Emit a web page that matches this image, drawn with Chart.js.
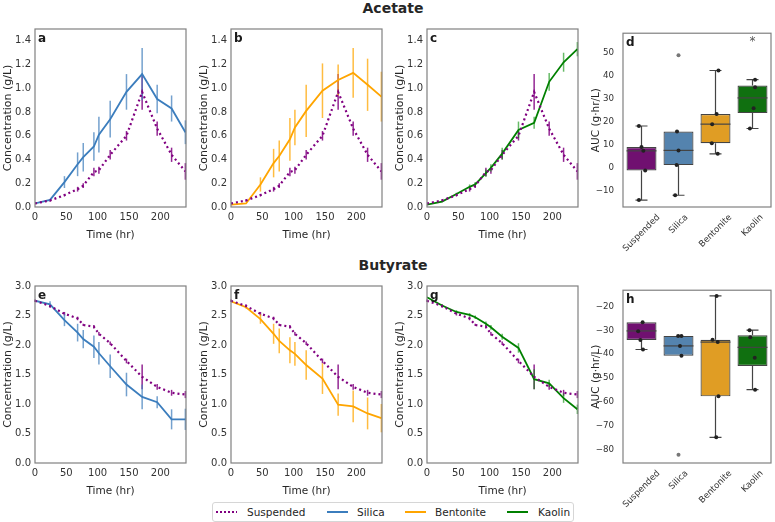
<!DOCTYPE html>
<html>
<head>
<meta charset="utf-8">
<script src="https://cdn.jsdelivr.net/npm/chart.js@4.4.0/dist/chart.umd.min.js"></script>
<style>
  body { margin: 0; width: 775px; height: 522px; position: relative; overflow: hidden; background: #fff;
         font-family: "DejaVu Sans", sans-serif; color: #262626; }
  canvas { position: absolute; }
  .title { position: absolute; left: 293px; width: 200px; text-align: center; font-weight: bold;
           font-size: 14px; line-height: 16px; }
  #legend { position: absolute; left: 212px; top: 502px; width: 360px; height: 18px;
            border: 1px solid #d6d6d6; border-radius: 3px; font-size: 10.5px; }
  #legend .sw { position: absolute; top: 8px; height: 2px; }
  #legend .lb { position: absolute; top: 2px; line-height: 14px; }
</style>
</head>
<body>
<div class="title" style="top:0px">Acetate</div>
<div class="title" style="top:257px">Butyrate</div>
<div id="legend"></div>

<script>
// sampling times (hr) and tick values
const times = [0, 24, 47, 68, 77, 94, 102, 120, 146, 171, 195, 218, 240];
const timeTicks = [0, 50, 100, 150, 200];
const acetateTicks = [0, 0.2, 0.4, 0.6, 0.8, 1.0, 1.2, 1.4];
const butyrateTicks = [0, 0.5, 1.0, 1.5, 2.0, 2.5, 3.0];

// acetate concentration (g/L), mean and error
const acetateSuspended    = [0.03, 0.055, 0.10, 0.15, 0.18, 0.295, 0.31, 0.44, 0.60, 0.97, 0.66, 0.44, 0.30];
const acetateSuspendedErr = [0, 0.01, 0.01, 0.02, 0.02, 0.035, 0.03, 0.04, 0.04, 0.15, 0.06, 0.06, 0.07];
const acetateSilica       = [0.03, 0.06, 0.21, 0.36, 0.42, 0.51, 0.61, 0.74, 0.97, 1.12, 0.91, 0.83, 0.63];
const acetateSilicaErr    = [0, 0, 0.05, 0.10, 0.12, 0.12, 0.15, 0.155, 0.15, 0.22, 0.12, 0.11, 0.10];
const acetateBentonite    = [0.02, 0.03, 0.19, 0.37, 0.43, 0.57, 0.67, 0.81, 0.98, 1.07, 1.13, 1.03, 0.93];
const acetateBentoniteErr = [0, 0, 0.06, 0.12, 0.13, 0.18, 0.15, 0.22, 0.23, 0.13, 0.21, 0.22, 0.21];
const acetateKaolin       = [0.02, 0.046, 0.11, 0.17, 0.19, 0.285, 0.33, 0.45, 0.65, 0.71, 1.055, 1.22, 1.33];
const acetateKaolinErr    = [0, 0.005, 0.01, 0.02, 0.02, 0.03, 0.03, 0.05, 0.07, 0.05, 0.075, 0.08, 0.06];

// butyrate concentration (g/L)
const butyrateSuspended    = [2.75, 2.66, 2.53, 2.45, 2.34, 2.31, 2.19, 2.03, 1.73, 1.46, 1.29, 1.19, 1.16];
const butyrateSuspendedErr = [0.02, 0.03, 0.03, 0.03, 0.02, 0.03, 0.03, 0.03, 0.04, 0.21, 0.05, 0.05, 0.06];
const butyrateSilica       = [2.75, 2.69, 2.42, 2.21, 2.10, 1.97, 1.86, 1.64, 1.33, 1.12, 1.03, 0.74, 0.74];
const butyrateSilicaErr    = [0, 0.05, 0.10, 0.15, 0.155, 0.19, 0.19, 0.20, 0.20, 0.21, 0.10, 0.17, 0.18];
const butyrateBentonite    = [2.74, 2.64, 2.44, 2.19, 2.07, 1.91, 1.85, 1.66, 1.43, 0.99, 0.96, 0.84, 0.76];
const butyrateBentoniteErr = [0, 0.02, 0.08, 0.17, 0.21, 0.22, 0.20, 0.25, 0.26, 0.19, 0.27, 0.27, 0.24];
const butyrateKaolin       = [2.81, 2.67, 2.56, 2.51, 2.47, 2.36, 2.30, 2.14, 1.95, 1.42, 1.35, 1.10, 0.91];
const butyrateKaolinErr    = [0, 0.02, 0.03, 0.03, 0.03, 0.04, 0.04, 0.05, 0.08, 0.17, 0.06, 0.08, 0.08];

// AUC box plots (g·hr/L)
const groups = ["Suspended", "Silica", "Bentonite", "Kaolin"];
const acetateAucTicks = [-10, 0, 10, 20, 30, 40, 50];
const acetateAucQ1     = [-1.1, 1.2, 10.7, 23.8];
const acetateAucMedian = [7.4, 7.6, 19.0, 30.4];
const acetateAucQ3     = [9.1, 15.8, 23.4, 35.8];
const acetateAucLow    = [-14.0, -11.9, 6.1, 17.1];
const acetateAucHigh   = [18.2, 15.8, 42.3, 38.3];
const acetateAucPoints = [[18.2, 9.1, 7.4, -1.1, -14.0], [15.8, 7.6, 1.2, -11.9], [42.3, 23.4, 19.0, 10.7, 6.1], [38.3, 35.0, 25.9, 17.1]];
const acetateAucJitter = [[-0.07, 0, 0.05, 0.1, -0.07], [-0.04, 0, -0.05, -0.09], [0.08, 0.03, -0.09, -0.1, 0.06], [0.07, 0.07, 0.03, -0.07]];
const acetateAucFliers = [[], [48.9], [], []];
const acetateAucStars  = [[], [], [], [56]];

const butyrateAucTicks = [-80, -70, -60, -50, -40, -30, -20];
const butyrateAucQ1     = [-34.0, -40.6, -57.7, -44.9];
const butyrateAucMedian = [-30.2, -36.5, -34.9, -37.1];
const butyrateAucQ3     = [-26.6, -32.3, -33.9, -32.0];
const butyrateAucLow    = [-38.0, -40.6, -74.9, -54.9];
const butyrateAucHigh   = [-26.6, -32.3, -15.5, -29.9];
const butyrateAucPoints = [[-26.6, -30.3, -34.0, -38.0], [-32.3, -32.3, -36.5, -40.6], [-15.5, -33.9, -34.9, -57.7, -74.9], [-29.9, -32.9, -41.5, -54.9]];
const butyrateAucJitter = [[0.03, -0.09, -0.03, 0.04], [-0.01, 0.08, 0.04, 0.08], [0.03, -0.08, 0.06, 0.08, 0.02], [-0.08, -0.06, 0.06, 0.07]];
const butyrateAucFliers = [[], [-82.2], [], []];
const butyrateAucStars  = [[], [], [], []];

const FONT = "'DejaVu Sans', sans-serif";
const TXT = "#333";
const lineColors = { Suspended: "#800080", Silica: "#3b7dbd", Bentonite: "#ffa500", Kaolin: "#008000" };
const errColors = { Suspended: "rgba(128,0,128,0.85)", Silica: "rgba(70,130,190,0.75)",
                    Bentonite: "rgba(255,165,0,0.75)", Kaolin: "rgba(0,140,0,0.6)" };
const boxColors = ["#701070", "#5483ae", "#e09d24", "#107010"];

Chart.defaults.font.family = FONT;
Chart.defaults.color = TXT;

// gray frame round the plot area + panel letter
const framePlugin = {
  id: "frame",
  afterDraw(chart, args, opts) {
    const { ctx, chartArea: a } = chart;
    ctx.save();
    ctx.strokeStyle = "#808080";
    ctx.lineWidth = 1.2;
    ctx.strokeRect(a.left, a.top, a.right - a.left, a.bottom - a.top);
    ctx.fillStyle = "#1a1a1a";
    ctx.font = "bold 12px " + FONT;
    ctx.textAlign = "left";
    ctx.textBaseline = "alphabetic";
    ctx.fillText(opts.letter, a.left + 3, a.top + 13);
    ctx.restore();
  }
};

const errorBarPlugin = {
  id: "errorBars",
  beforeDatasetsDraw(chart) {
    const { ctx, scales: { x, y } } = chart;
    ctx.save();
    chart.data.datasets.forEach(ds => {
      if (!ds.errors) return;
      ctx.strokeStyle = ds.errColor;
      ctx.lineWidth = 1.5;
      ds.data.forEach((p, i) => {
        const e = ds.errors[i];
        if (!e) return;
        const px = x.getPixelForValue(p.x);
        ctx.beginPath();
        ctx.moveTo(px, y.getPixelForValue(p.y - e));
        ctx.lineTo(px, y.getPixelForValue(p.y + e));
        ctx.stroke();
      });
    });
    ctx.restore();
  }
};

function addCanvas(left, top, w, h) {
  const c = document.createElement("canvas");
  c.width = w; c.height = h;
  c.style.left = left + "px"; c.style.top = top + "px";
  document.body.appendChild(c);
  return c;
}

function lineChart(letter, left, top, h, yMax, yTicks, series) {
  const canvas = addCanvas(left - 35, top - 4, 35 + 151 + 4, 4 + h + 38);
  new Chart(canvas, {
    type: "line",
    data: {
      datasets: series.map(s => ({
        data: times.map((t, i) => ({ x: t, y: s.values[i] })),
        errors: s.errors,
        errColor: errColors[s.name],
        borderColor: lineColors[s.name],
        borderWidth: s.name === "Suspended" ? 2.2 : 1.8,
        borderDash: s.name === "Suspended" ? [2, 3] : [],
        pointRadius: 0,
        tension: 0,
        fill: false
      }))
    },
    options: {
      responsive: false, animation: false, events: [],
      layout: { padding: { top: 4, right: 4, left: 0, bottom: 0 } },
      plugins: { legend: { display: false }, tooltip: { enabled: false }, frame: { letter } },
      scales: {
        x: {
          type: "linear", min: 0, max: 241,
          grid: { display: false, drawTicks: false }, border: { display: false },
          afterBuildTicks: s => { s.ticks = timeTicks.map(v => ({ value: v })); },
          afterFit: s => { s.height = 38; },
          ticks: { padding: 4, font: { size: 10 }, color: TXT, maxRotation: 0 },
          title: { display: true, text: "Time (hr)", font: { size: 10.5 }, color: "#262626", padding: { top: 0, bottom: 3 } }
        },
        y: {
          min: 0, max: yMax,
          grid: { display: false, drawTicks: false }, border: { display: false },
          afterBuildTicks: s => { s.ticks = yTicks.map(v => ({ value: v })); },
          afterFit: s => { s.width = 35; },
          ticks: { padding: 4, font: { size: 10 }, color: TXT, callback: v => v.toFixed(1) },
          title: { display: true, text: "Concentration (g/L)", font: { size: 11 }, color: "#262626", padding: { top: 2, bottom: 0 } }
        }
      }
    },
    plugins: [errorBarPlugin, framePlugin]
  });
}

// whiskers, caps, medians, rotated category labels, star marks
const boxPlugin = {
  id: "boxParts",
  beforeDatasetsDraw(chart, args, opts) {
    const { ctx, scales: { x, y } } = chart;
    const bars = chart.getDatasetMeta(2).data;
    ctx.save();
    ctx.strokeStyle = "#444";
    ctx.lineWidth = 1.2;
    groups.forEach((g, i) => {
      const px = x.getPixelForValue(i);
      const cap = bars[i].width * 0.2;
      [[opts.q3[i], opts.high[i]], [opts.q1[i], opts.low[i]]].forEach(([from, to]) => {
        if (from === to) return;
        ctx.beginPath();
        ctx.moveTo(px, y.getPixelForValue(from));
        ctx.lineTo(px, y.getPixelForValue(to));
        ctx.moveTo(px - cap, y.getPixelForValue(to));
        ctx.lineTo(px + cap, y.getPixelForValue(to));
        ctx.stroke();
      });
    });
    ctx.restore();
  },
  afterDatasetDraw(chart, args, opts) {
    if (args.meta.type !== "bar") return;
    const { ctx, scales: { y } } = chart;
    ctx.save();
    ctx.strokeStyle = "#444";
    ctx.lineWidth = 1.2;
    args.meta.data.forEach((bar, i) => {
      const py = y.getPixelForValue(opts.median[i]);
      ctx.beginPath();
      ctx.moveTo(bar.x - bar.width / 2, py);
      ctx.lineTo(bar.x + bar.width / 2, py);
      ctx.stroke();
    });
    ctx.restore();
  },
  afterDraw(chart, args, opts) {
    const { ctx, chartArea: a, scales: { x, y } } = chart;
    ctx.save();
    ctx.fillStyle = TXT;
    ctx.font = "8.7px " + FONT;
    ctx.textAlign = "center";
    ctx.textBaseline = "middle";
    groups.forEach((g, i) => {
      const w = ctx.measureText(g).width;
      const side = (w + 8.7) * Math.SQRT1_2;
      ctx.save();
      ctx.translate(x.getPixelForValue(i), a.bottom + 6 + side / 2);
      ctx.rotate(-Math.PI / 4);
      ctx.fillText(g, 0, 0);
      ctx.restore();
    });
    ctx.fillStyle = "#555";
    ctx.font = "12px " + FONT;
    opts.stars.forEach((vals, i) => vals.forEach(v => {
      ctx.fillText("*", x.getPixelForValue(i), y.getPixelForValue(v) + 3);
    }));
    ctx.restore();
  }
};

function boxChart(letter, top, h, yMin, yMax, yTicks, s) {
  const canvas = addCanvas(588, top - 4, 35 + 151 + 1, 4 + h + 48);
  const pts = [], fl = [];
  s.points.forEach((vals, i) => vals.forEach((v, j) => pts.push({ x: i + s.jitter[i][j], y: v })));
  s.fliers.forEach((vals, i) => vals.forEach(v => fl.push({ x: i, y: v })));
  const fmt = v => (v < 0 ? "\u2212" + Math.abs(v) : String(v));
  new Chart(canvas, {
    type: "bar",
    data: {
      datasets: [
        { type: "scatter", data: pts, pointRadius: 2, backgroundColor: "#222", borderWidth: 0 },
        { type: "scatter", data: fl, pointRadius: 2, backgroundColor: "#777", borderWidth: 0 },
        { type: "bar", data: groups.map((g, i) => ({ x: i, y: [s.q1[i], s.q3[i]] })),
          backgroundColor: boxColors, borderColor: "#444", borderWidth: 1.2, borderSkipped: false,
          barPercentage: 1, categoryPercentage: 0.81 }
      ]
    },
    options: {
      responsive: false, animation: false, events: [],
      layout: { padding: { top: 4, right: 1, left: 0, bottom: 0 } },
      plugins: {
        legend: { display: false }, tooltip: { enabled: false }, frame: { letter },
        boxParts: { q1: s.q1, q3: s.q3, median: s.median, low: s.low, high: s.high, stars: s.stars }
      },
      scales: {
        x: {
          type: "linear", min: -0.5, max: 3.5, offset: false,
          grid: { display: false, drawTicks: false }, border: { display: false },
          ticks: { display: false },
          afterFit: sc => { sc.height = 48; }
        },
        y: {
          min: yMin, max: yMax,
          grid: { display: false, drawTicks: false }, border: { display: false },
          afterBuildTicks: sc => { sc.ticks = yTicks.map(v => ({ value: v })); },
          afterFit: sc => { sc.width = 35; },
          ticks: { padding: 9, font: { size: 8.7 }, color: TXT, callback: fmt },
          title: { display: true, text: "AUC (g\u00b7hr/L)", font: { size: 10.5 }, color: "#262626", padding: { top: 2, bottom: 0 } }
        }
      }
    },
    plugins: [boxPlugin, framePlugin]
  });
}

const lefts = [35, 231, 427];
lineChart("a", lefts[0], 23, 184, 1.5, acetateTicks, [
  { name: "Suspended", values: acetateSuspended, errors: acetateSuspendedErr },
  { name: "Silica", values: acetateSilica, errors: acetateSilicaErr }]);
lineChart("b", lefts[1], 23, 184, 1.5, acetateTicks, [
  { name: "Suspended", values: acetateSuspended, errors: acetateSuspendedErr },
  { name: "Bentonite", values: acetateBentonite, errors: acetateBentoniteErr }]);
lineChart("c", lefts[2], 23, 184, 1.5, acetateTicks, [
  { name: "Suspended", values: acetateSuspended, errors: acetateSuspendedErr },
  { name: "Kaolin", values: acetateKaolin, errors: acetateKaolinErr }]);
lineChart("e", lefts[0], 280, 183, 3.0, butyrateTicks, [
  { name: "Suspended", values: butyrateSuspended, errors: butyrateSuspendedErr },
  { name: "Silica", values: butyrateSilica, errors: butyrateSilicaErr }]);
lineChart("f", lefts[1], 280, 183, 3.0, butyrateTicks, [
  { name: "Suspended", values: butyrateSuspended, errors: butyrateSuspendedErr },
  { name: "Bentonite", values: butyrateBentonite, errors: butyrateBentoniteErr }]);
lineChart("g", lefts[2], 280, 183, 3.0, butyrateTicks, [
  { name: "Suspended", values: butyrateSuspended, errors: butyrateSuspendedErr },
  { name: "Kaolin", values: butyrateKaolin, errors: butyrateKaolinErr }]);

boxChart("d", 23, 184, -17, 58.5, acetateAucTicks, {
  q1: acetateAucQ1, median: acetateAucMedian, q3: acetateAucQ3, low: acetateAucLow, high: acetateAucHigh,
  points: acetateAucPoints, jitter: acetateAucJitter, fliers: acetateAucFliers, stars: acetateAucStars });
boxChart("h", 280, 183, -85.7, -13.1, butyrateAucTicks, {
  q1: butyrateAucQ1, median: butyrateAucMedian, q3: butyrateAucQ3, low: butyrateAucLow, high: butyrateAucHigh,
  points: butyrateAucPoints, jitter: butyrateAucJitter, fliers: butyrateAucFliers, stars: butyrateAucStars });

// legend
const legendItems = [
  { name: "Suspended", sw: 3, txt: 34 },
  { name: "Silica", sw: 114, txt: 144 },
  { name: "Bentonite", sw: 192, txt: 222 },
  { name: "Kaolin", sw: 294, txt: 325 }
];
const legend = document.getElementById("legend");
legendItems.forEach(it => {
  const sw = document.createElement("span");
  sw.className = "sw";
  sw.style.left = it.sw + "px";
  sw.style.width = "21px";
  sw.style.background = it.name === "Suspended"
    ? "repeating-linear-gradient(90deg, " + lineColors[it.name] + " 0 2px, transparent 2px 4px)"
    : lineColors[it.name];
  legend.appendChild(sw);
  const lb = document.createElement("span");
  lb.className = "lb";
  lb.style.left = it.txt + "px";
  lb.textContent = it.name;
  legend.appendChild(lb);
});
</script>
</body>
</html>
